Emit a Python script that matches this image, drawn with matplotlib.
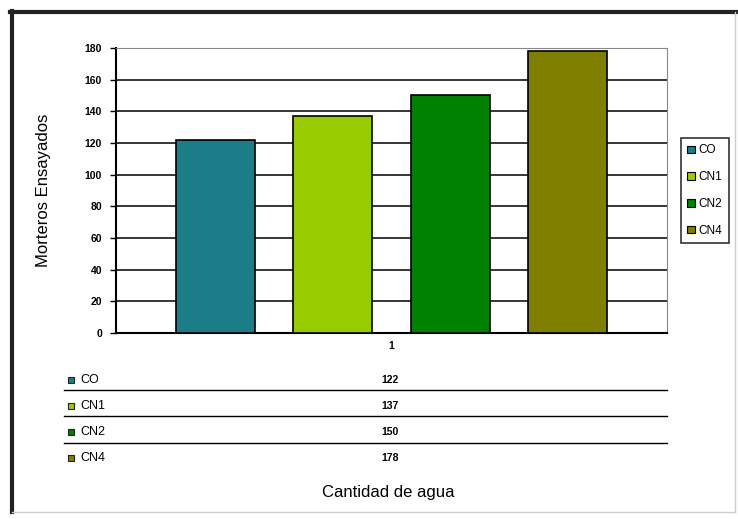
import matplotlib.pyplot as plt
import numpy as np
from matplotlib.lines import Line2D
from matplotlib.patches import Patch

plt.rcParams['font.family'] = ['Liberation Sans', 'DejaVu Sans']

series = ['CO', 'CN1', 'CN2', 'CN4']
values = [122, 137, 150, 178]
colors = ['#1a7d88', '#99cc00', '#008000', '#808000']
category = '1'
yticks = [0, 20, 40, 60, 80, 100, 120, 140, 160, 180]

W, H = 738, 519
fig = plt.figure(figsize=(W / 100, H / 100), dpi=100)


def fx(px):
    return px / W


def fy(py):
    return 1 - py / H


ax = fig.add_axes([fx(116), fy(333), fx(667) - fx(116), fy(48) - fy(333)])

step = 0.2135
width = 0.1434
xs = 0.5 + (np.arange(len(values)) - 1.5) * step
for x, v, c in zip(xs, values, colors):
    ax.bar(x, v, width=width, color=c, edgecolor='black', linewidth=1.2, zorder=3)

ax.set_xlim(0, 1)
ax.set_ylim(0, 180)
ax.set_yticks(yticks)
ax.set_yticklabels([str(t) for t in yticks], fontsize=7.5, fontweight='bold')
ax.yaxis.grid(True, color='black', linewidth=1.1, zorder=0)
ax.set_axisbelow(True)
ax.tick_params(axis='y', length=4, width=1, pad=6)
ax.set_xticks([0.5])
ax.set_xticklabels([category], fontsize=7.5, fontweight='bold')
ax.tick_params(axis='x', length=0, pad=6)
for s in ['top', 'right']:
    ax.spines[s].set_color('#888888')
    ax.spines[s].set_linewidth(0.8)
ax.spines['left'].set_linewidth(1.5)
ax.spines['bottom'].set_linewidth(1.5)
ax.set_ylabel('Morteros Ensayados', fontsize=12, labelpad=24)

# legend on the right
handles = [Patch(facecolor=c, edgecolor='black', linewidth=0.8) for c in colors]
leg = fig.legend(handles, series, loc='upper left',
                 bbox_to_anchor=(fx(681), fy(138)), fontsize=8.5,
                 handlelength=0.6, handleheight=0.6, handletextpad=0.35,
                 labelspacing=1.25, borderpad=0.55, borderaxespad=0,
                 fancybox=False, frameon=True)
leg.get_frame().set_edgecolor('black')
leg.get_frame().set_linewidth(1.2)

# data table below the chart
row_y = [380, 406, 432, 458]
for i, (name, v, c) in enumerate(zip(series, values, colors)):
    fig.add_artist(Line2D([fx(71)], [fy(row_y[i])], marker='s', markersize=5,
                          markerfacecolor=c, markeredgecolor='#222222',
                          markeredgewidth=0.8, linestyle='none'))
    fig.text(fx(80), fy(row_y[i]), name, fontsize=9, va='center', ha='left')
    fig.text(fx(390), fy(row_y[i]), str(v), fontsize=7.5, fontweight='bold',
             va='center', ha='center')
for ly in [390, 416, 443]:
    fig.add_artist(Line2D([fx(64), fx(667)], [fy(ly), fy(ly)], color='black',
                          linewidth=1))

fig.text(fx(388), fy(493), 'Cantidad de agua', fontsize=12, ha='center',
         va='center')

# outer frame
fig.add_artist(Line2D([fx(12), fx(12)], [fy(11), fy(512)], color='#222222',
                      linewidth=3))
fig.add_artist(Line2D([fx(10), fx(736)], [fy(12), fy(12)], color='#222222',
                      linewidth=3))
fig.add_artist(Line2D([fx(12), fx(735)], [fy(512), fy(512)], color='#cccccc',
                      linewidth=1))
fig.add_artist(Line2D([fx(735), fx(735)], [fy(12), fy(512)], color='#cccccc',
                      linewidth=1))

fig.savefig('out.png', dpi=100)
